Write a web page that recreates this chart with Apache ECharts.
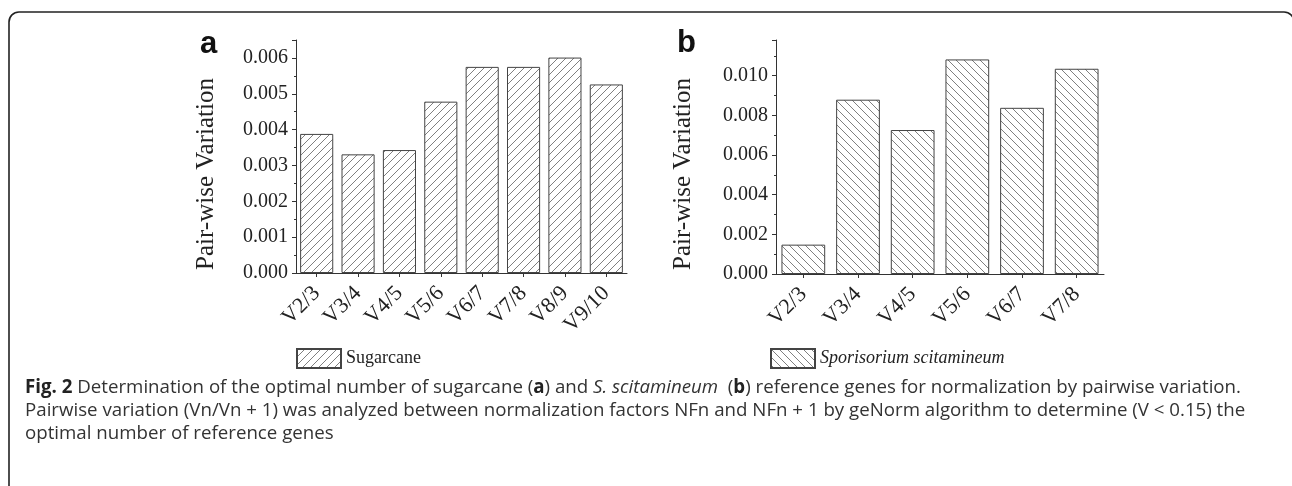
<!DOCTYPE html>
<html>
<head>
<meta charset="utf-8">
<script src="https://cdn.jsdelivr.net/npm/echarts@6/dist/echarts.min.js"></script>
<style>
  html, body { margin: 0; padding: 0; background: #fff; }
  #main { width: 1292px; height: 486px; }
</style>
</head>
<body>
<div id="main"></div>
<script>
// 数据
var catsA = ['V2/3', 'V3/4', 'V4/5', 'V5/6', 'V6/7', 'V7/8', 'V8/9', 'V9/10'];
var valsA = [0.00388, 0.00331, 0.00343, 0.00478, 0.00575, 0.00575, 0.00601, 0.00526];
var catsB = ['V2/3', 'V3/4', 'V4/5', 'V5/6', 'V6/7', 'V7/8'];
var valsB = [0.00148, 0.00879, 0.00726, 0.01082, 0.00838, 0.01035];
var nameA = 'Sugarcane';
var nameB = 'Sporisorium scitamineum';
var yName = 'Pair-wise Variation';
var captionLines = [
    '{b|Fig. 2} Determination of the optimal number of sugarcane ({b|a}) and {i|S. scitamineum}  ({b|b}) reference genes for normalization by pairwise variation.',
    'Pairwise variation (Vn/Vn + 1) was analyzed between normalization factors NFn and NFn + 1 by geNorm algorithm to determine (V < 0.15) the',
    'optimal number of reference genes'
];

// 斜线填充
function hatch(dir) {
    var s = 8;
    var c = document.createElement('canvas');
    c.width = s; c.height = s;
    var ctx = c.getContext('2d');
    ctx.fillStyle = '#fff';
    ctx.fillRect(0, 0, s, s);
    ctx.strokeStyle = '#808080';
    ctx.lineWidth = 1;
    ctx.beginPath();
    if (dir === '/') {
        ctx.moveTo(0, s); ctx.lineTo(s, 0);
        ctx.moveTo(-1, 1); ctx.lineTo(1, -1);
        ctx.moveTo(s - 1, s + 1); ctx.lineTo(s + 1, s - 1);
    } else {
        ctx.moveTo(0, 0); ctx.lineTo(s, s);
        ctx.moveTo(-1, s - 1); ctx.lineTo(1, s + 1);
        ctx.moveTo(s - 1, -1); ctx.lineTo(s + 1, 1);
    }
    ctx.stroke();
    return { image: c, repeat: 'repeat' };
}

var serif = 'Liberation Serif';
var axisColor = '#333';

function yAxisOf(idx, max, interval, limit) {
    return {
        gridIndex: idx,
        type: 'value',
        min: 0,
        max: max,
        interval: interval,
        axisLine: { show: true, lineStyle: { color: axisColor, width: 1 } },
        axisTick: { show: true, length: 4, lineStyle: { color: axisColor } },
        minorTick: { show: true, splitNumber: 2, length: 2, lineStyle: { color: axisColor } },
        splitLine: { show: false },
        axisLabel: {
            showMaxLabel: false,
            margin: 8,
            fontFamily: serif,
            fontSize: 20,
            color: '#222',
            formatter: function (v) { return v > limit ? '' : v.toFixed(3); }
        }
    };
}

function xAxisOf(idx, cats) {
    return {
        gridIndex: idx,
        type: 'category',
        data: cats,
        axisLine: { show: true, lineStyle: { color: axisColor, width: 1 } },
        axisTick: { show: true, alignWithLabel: true, length: 4, lineStyle: { color: axisColor } },
        axisLabel: { interval: 0, rotate: 45, margin: 17, fontFamily: serif, fontSize: 22, color: '#222' }
    };
}

var myChart = echarts.init(document.getElementById('main'));

var graphics = [
    {
        type: 'rect',
        shape: { x: 9, y: 12, width: 1285, height: 490, r: 10 },
        style: { fill: 'none', stroke: '#222', lineWidth: 1.6 },
        silent: true
    },
    {
        type: 'text', left: 200, top: 29,
        style: { text: 'a', font: 'bold 31px "Liberation Sans"', fill: '#111' }
    },
    {
        type: 'text', left: 677, top: 28,
        style: { text: 'b', font: 'bold 31px "Liberation Sans"', fill: '#111' }
    }
];
// 纵轴标题
[206, 683].forEach(function (cx) {
    graphics.push({
        type: 'text', x: cx, y: 174, rotation: Math.PI / 2,
        style: {
            text: yName, fontFamily: serif, fontSize: 25, fill: '#222',
            align: 'center', verticalAlign: 'middle'
        }
    });
});
var lineY = [388, 411, 434];
captionLines.forEach(function (t, i) {
    graphics.push({
        type: 'text',
        x: 25, y: lineY[i],
        style: {
            text: t,
            fontFamily: 'Open Sans',
            fontSize: 18.7,
            fill: '#333',
            verticalAlign: 'middle',
            rich: {
                b: { fontFamily: 'Open Sans', fontSize: 18.7, fontWeight: 'bold', fill: '#222' },
                i: { fontFamily: 'Open Sans', fontSize: 18.7, fontStyle: 'italic', fill: '#333' }
            }
        }
    });
});

var option = {
    backgroundColor: '#fff',
    animation: false,
    grid: [
        { left: 296, top: 40, width: 331, height: 233 },
        { left: 776, top: 40, width: 328, height: 234 }
    ],
    legend: [
        {
            data: [nameA], left: 291, top: 343, icon: 'rect',
            itemWidth: 44, itemHeight: 19, itemGap: 6,
            textStyle: { fontFamily: serif, fontSize: 18, color: '#222' }
        },
        {
            data: [nameB], left: 765, top: 343, icon: 'rect',
            itemWidth: 44, itemHeight: 19, itemGap: 6,
            textStyle: { fontFamily: serif, fontSize: 18, fontStyle: 'italic', color: '#222' }
        }
    ],
    xAxis: [xAxisOf(0, catsA), xAxisOf(1, catsB)],
    yAxis: [yAxisOf(0, 0.0065, 0.001, 0.0061), yAxisOf(1, 0.0118, 0.002, 0.0105)],
    series: [
        {
            name: nameA, type: 'bar', xAxisIndex: 0, yAxisIndex: 0,
            data: valsA, barCategoryGap: '20%',
            itemStyle: { color: hatch('/'), borderColor: '#444', borderWidth: 1 }
        },
        {
            name: nameB, type: 'bar', xAxisIndex: 1, yAxisIndex: 1,
            data: valsB, barCategoryGap: '20%',
            itemStyle: { color: hatch('\\'), borderColor: '#444', borderWidth: 1 }
        }
    ],
    graphic: graphics
};
myChart.setOption(option);
</script>
</body>
</html>
